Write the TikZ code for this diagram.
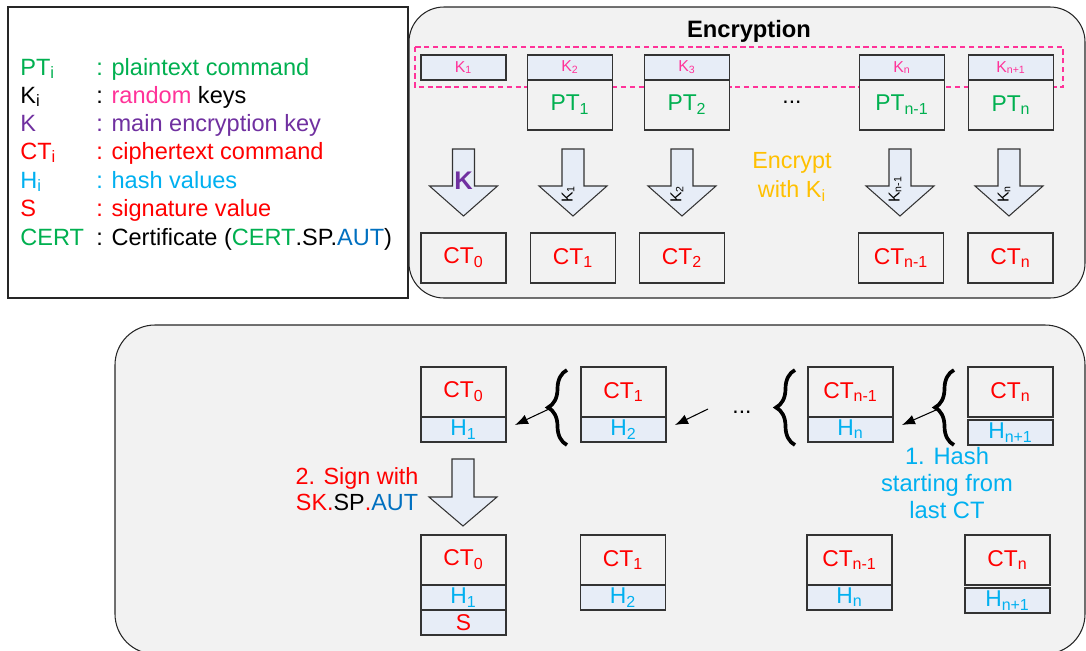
\documentclass[tikz,border=0pt]{standalone}
\usepackage{fontspec}
\setmainfont{Liberation Sans}
\usepackage{xcolor}
\usepackage{tikz}
\usetikzlibrary{positioning,arrows.meta,decorations.pathreplacing}

\definecolor{ptgreen}{HTML}{00B050}
\definecolor{keypink}{HTML}{FF3399}
\definecolor{mainkey}{HTML}{7030A0}
\definecolor{ctred}{HTML}{FF0000}
\definecolor{hashblue}{HTML}{00B0F0}
\definecolor{autblue}{HTML}{0070C0}
\definecolor{encorange}{HTML}{FFC000}
\definecolor{panelgray}{HTML}{F2F2F2}
\definecolor{cellblue}{HTML}{E7EDF7}
\newcommand{\ix}[1]{\textsubscript{#1}}

\begin{document}
\begin{tikzpicture}[x=0.02cm, y=-0.02cm,
  font=\fontsize{13}{15.5}\selectfont,
  panel/.style={draw=black!85, line width=0.6pt, fill=panelgray},
  ctbox/.style={draw=black!80, line width=0.6pt, fill=panelgray, minimum width=1.7cm, minimum height=1cm, inner sep=0pt, outer sep=0pt, text=ctred},
  ptbox/.style={ctbox, text=ptgreen},
  keybox/.style={draw=black!80, line width=0.6pt, fill=cellblue, minimum width=1.7cm, minimum height=0.5cm, inner sep=0pt, outer sep=0pt, text=keypink, font=\fontsize{9}{10}\selectfont},
  hbox/.style={keybox, text=hashblue, font=\fontsize{13}{14}\selectfont},
  sbox/.style={hbox, text=ctred},
  blockarrow/.style={draw=black!80, line width=0.6pt, fill=cellblue},
  hasharrow/.style={-{Latex[length=2.6mm, width=2mm]}, line width=0.6pt},
  curly/.style={decorate, decoration={brace, amplitude=0.38cm}, line width=2.1pt}]
 \path[use as bounding box, clip] (0,0) rectangle (1086,650);
 % legend and the two panels
 \draw[draw=black!85, line width=0.6pt, fill=white] (8,7) rectangle (408,298);
 \draw[panel, rounded corners=0.7cm] (409,7) rectangle (1085,298);
 \draw[panel, rounded corners=0.8cm] (115,325) rectangle (1085,654);
 \foreach \i/\y/\lab/\dsc in {
   1/75/{\textcolor{ptgreen}{PT\ix{i}}}/{\textcolor{ptgreen}{: plaintext command}},
   2/103/{K\ix{i}}/{: \textcolor{keypink}{random} keys},
   3/131/{\textcolor{mainkey}{K}}/{\textcolor{mainkey}{: main encryption key}},
   4/159/{\textcolor{ctred}{CT\ix{i}}}/{\textcolor{ctred}{: ciphertext command}},
   5/188/{\textcolor{hashblue}{H\ix{i}}}/{\textcolor{hashblue}{: hash values}},
   6/216/{\textcolor{ctred}{S}}/{\textcolor{ctred}{: signature value}},
   7/245/{\textcolor{ptgreen}{CERT}}/{: Certificate (\textcolor{ptgreen}{CERT}.SP.\textcolor{autblue}{AUT})}}
 {
   \node[anchor=base west, inner sep=0pt, font=\fontsize{13.4}{15}\selectfont] (lab\i) at (20,\y) {\lab};
   \node[anchor=base west, inner sep=0pt, font=\fontsize{13.4}{15}\selectfont] (dsc\i) at (96,\y) {\dsc};
 }
 % encryption
 \node[font=\bfseries\fontsize{13.5}{15}\selectfont] (title) at (749,31) {Encryption};
 \draw[keypink, dash pattern=on 3pt off 2pt, line width=1.2pt] (415,47) rectangle (1063,87);
 \node[keybox] (k1) at (463.5,67.5) {K\ix{1}};
 \foreach \n/\x/\k/\p in {2/570/2/1, 3/687/3/2, 4/902/n/n-1, 5/1011/n+1/n} {
   \node[keybox] (k\n) at (\x,67.5) {K\ix{\k}};
   \node[ptbox, below=0pt of k\n] (pt\n) {PT\ix{\p}};
 }
 \node[anchor=base] (dotsA) at (792,103) {...};
 \foreach \x in {463.5,573,682,900,1009}
   \draw[blockarrow] (\x-11,149) -- (\x+11,149) -- (\x+11,186) -- (\x+34,186) -- (\x,216) -- (\x-34,186) -- (\x-11,186) -- cycle;
 \node[text=mainkey, font=\bfseries\fontsize{14.5}{16}\selectfont, inner sep=0pt] (kmain) at (463.5,181) {K};
 \foreach \nm/\x/\k in {ka/573/1, kb/682/2, kc/900/n-1, kd/1009/n}
   \node[rotate=90, anchor=west, inner sep=0pt, font=\fontsize{9}{10}\selectfont] (\nm) at (\x-5,203) {K\ix{\k}};
 \node[text=encorange, align=center, font=\fontsize{13.3}{16.5}\selectfont] (enclbl) at (792,177) {Encrypt\\with K\ix{i}};
 \foreach \n/\x/\c in {0/463.5/0, 1/573/1, 2/682/2, 3/901/n-1, 4/1010.5/n}
   \node[ctbox] (ct\n) at (\x,258) {CT\ix{\c}};
 % hashing
 \foreach \n/\x/\c/\h in {0/463.5/0/1, 1/623.5/1/2, 2/850.5/n-1/n} {
   \node[ctbox] (mct\n) at (\x,392) {CT\ix{\c}};
   \node[hbox, below=0pt of mct\n] (mh\n) {H\ix{\h}};
 }
 \node[ctbox] (mct3) at (1010.5,392) {CT\ix{n}};
 \node[hbox, below=0.06cm of mct3] (mh3) {H\ix{n+1}};
 \draw[curly] (567,445) -- (567,370);
 \draw[curly] (795,445) -- (795,370);
 \draw[curly] (954,445) -- (954,370);
 \coordinate (brA) at (549,409);
 \coordinate (dotstail) at (708,409);
 \coordinate (brC) at (936,410);
 \node[anchor=base] (dotsB) at (742,413) {...};
 \draw[hasharrow] (brA) -- ([xshift=0.18cm,yshift=0.09cm]mh0.east);
 \draw[hasharrow] (dotstail) -- ([xshift=0.18cm,yshift=0.09cm]mh1.east);
 \draw[hasharrow] (brC) -- ([xshift=0.18cm,yshift=0.09cm]mh2.east);
 \node[text=hashblue, align=center, font=\fontsize{13.5}{15.5}\selectfont] (hashlbl) at (947,483) {1. Hash\\starting from\\last CT};
 % signing
 \draw[blockarrow] (452,459) -- (474,459) -- (474,497) -- (497,497) -- (463,526) -- (429,497) -- (452,497) -- cycle;
 \node[text=ctred, align=center, font=\fontsize{13.3}{15}\selectfont] (signlbl) at (357,489) {2. Sign with\\SK.\textcolor{black}{SP}.\textcolor{autblue}{AUT}};
 \foreach \n/\x/\c/\h in {0/463.5/0/1, 1/623/1/2, 2/849.5/n-1/n} {
   \node[ctbox] (bct\n) at (\x,560) {CT\ix{\c}};
   \node[hbox, below=0pt of bct\n] (bh\n) {H\ix{\h}};
 }
 \node[sbox, below=0pt of bh0] (bs0) {S};
 \node[ctbox] (bct3) at (1007.5,560) {CT\ix{n}};
 \node[hbox, below=0.06cm of bct3] (bh3) {H\ix{n+1}};
\end{tikzpicture}
\end{document}
